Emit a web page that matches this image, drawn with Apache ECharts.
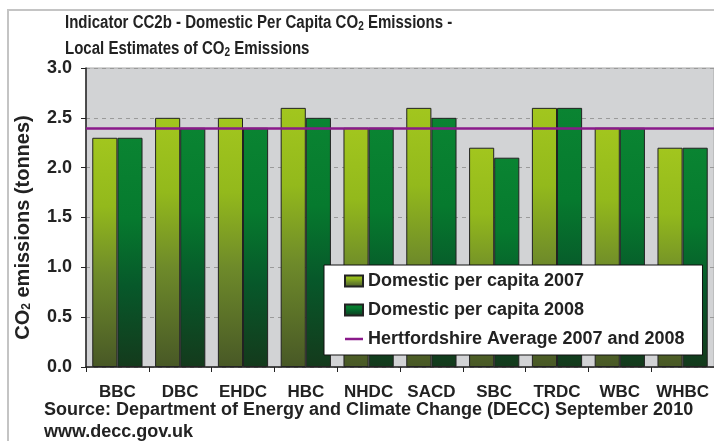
<!DOCTYPE html>
<html>
<head>
<meta charset="utf-8">
<script src="https://cdn.jsdelivr.net/npm/echarts@6/dist/echarts.min.js"></script>
<style>
html,body{margin:0;padding:0;background:#fff;}
#main{width:714px;height:441px;}
</style>
</head>
<body>
<div id="main"></div>
<script>
//数据
var categories = ['BBC','DBC','EHDC','HBC','NHDC','SACD','SBC','TRDC','WBC','WHBC'];
var values2007 = [2.3, 2.5, 2.5, 2.6, 2.4, 2.6, 2.2, 2.6, 2.4, 2.2];
var values2008 = [2.3, 2.4, 2.4, 2.5, 2.4, 2.5, 2.1, 2.6, 2.4, 2.2];
var avgValue = 2.4;
var seriesNames = ['Domestic per capita 2007','Domestic per capita 2008','Hertfordshire Average 2007 and 2008'];

var FONT = 'Liberation Sans, Arial, sans-serif';
var TXT = '#222';

var chart = echarts.init(document.getElementById('main'));
chart.setOption({
	backgroundColor: '#fff',
	animation: false,
	textStyle: {fontFamily: FONT},
	graphic: [
		{type: 'rect', shape: {x: 8, y: 10, width: 720, height: 450}, style: {fill: 'none', stroke: '#c4c4c4', lineWidth: 2}, silent: true},
		//标题（横向压缩）
		{
			type: 'text', x: 65, y: 10, scaleX: 0.835,
			style: {
				text: '{a|Indicator CC2b - Domestic Per Capita CO}{s|2}{a| Emissions -}\n{a|Local Estimates of CO}{s|2}{a| Emissions}',
				rich: {
					a: {fontSize: 18, fontWeight: 'bold', fill: TXT, fontFamily: FONT, lineHeight: 26},
					s: {fontSize: 12, fontWeight: 'bold', fill: TXT, fontFamily: FONT, lineHeight: 26, padding: [8, 0, 0, 0]}
				}
			}
		},
		{type: 'text', left: 44, top: 401, style: {text: 'Source: Department of Energy and Climate Change (DECC) September 2010', font: 'bold 18px ' + FONT, fill: TXT}},
		{type: 'text', left: 44, top: 423, style: {text: 'www.decc.gov.uk', font: 'bold 18px ' + FONT, fill: TXT}}
	],
	legend: {
		orient: 'vertical',
		left: 324,
		top: 265,
		backgroundColor: '#fff',
		borderColor: '#111',
		borderWidth: 1,
		padding: [7, 18, 7, 20],
		itemWidth: 18,
		itemHeight: 11,
		itemGap: 11,
		textStyle: {fontSize: 18, fontWeight: 'bold', color: TXT, fontFamily: FONT},
		data: [
			{name: seriesNames[0], icon: 'rect'},
			{name: seriesNames[1], icon: 'rect'},
			{name: seriesNames[2], icon: 'path://M0,0 L18,0 L18,2.5 L0,2.5 Z'}
		]
	},
	grid: {
		left: 86,
		right: 0,
		top: 68,
		bottom: 74,
		show: true,
		backgroundColor: '#d2d3d5',
		borderColor: '#a8a8a8',
		borderWidth: 1
	},
	xAxis: {
		type: 'category',
		data: categories,
		axisLine: {lineStyle: {color: '#222', width: 1.5}},
		axisTick: {show: true, length: 5, lineStyle: {color: '#222'}},
		axisLabel: {margin: 17, fontSize: 17, fontWeight: 'bold', color: TXT, fontFamily: FONT, interval: 0}
	},
	yAxis: {
		type: 'value',
		min: 0,
		max: 3,
		interval: 0.5,
		name: '{a|CO}{s|2}{a| emissions (tonnes)}',
		nameLocation: 'middle',
		nameGap: 52,
		nameRotate: 90,
		nameTextStyle: {
			padding: [0, 20, 0, 0],
			rich: {
				a: {fontSize: 20, fontWeight: 'bold', color: TXT, fontFamily: FONT, lineHeight: 22},
				s: {fontSize: 12, fontWeight: 'bold', color: TXT, fontFamily: FONT, lineHeight: 22, padding: [7, 0, 0, 0]}
			}
		},
		axisLine: {show: true, lineStyle: {color: '#222', width: 1.5}},
		axisTick: {show: true, length: 5, lineStyle: {color: '#222'}},
		axisLabel: {
			margin: 14, fontSize: 18, fontWeight: 'bold', color: TXT, fontFamily: FONT,
			formatter: function (v) { return v.toFixed(1); }
		},
		splitLine: {show: true, lineStyle: {color: '#9a9a9a', type: [4, 4], width: 1}}
	},
	series: [
		{
			name: seriesNames[0],
			type: 'bar',
			data: values2007,
			barGap: '0%',
			barCategoryGap: '20%',
			itemStyle: {
				borderColor: '#222',
				borderWidth: 1,
				color: new echarts.graphic.LinearGradient(0, 0, 0, 1, [
					{offset: 0, color: '#a2c61e'},
					{offset: 0.3, color: '#93b91c'},
					{offset: 0.6, color: '#6e8a2a'},
					{offset: 1, color: '#485826'}
				])
			}
		},
		{
			name: seriesNames[1],
			type: 'bar',
			data: values2008,
			barGap: '0%',
			barCategoryGap: '20%',
			itemStyle: {
				borderColor: '#222',
				borderWidth: 1,
				color: new echarts.graphic.LinearGradient(0, 0, 0, 1, [
					{offset: 0, color: '#0a8432'},
					{offset: 0.35, color: '#067a2e'},
					{offset: 0.65, color: '#07582a'},
					{offset: 1, color: '#143a1c'}
				])
			}
		},
		{
			name: seriesNames[2],
			type: 'line',
			data: [],
			symbol: 'none',
			itemStyle: {color: '#8a1a8a'},
			lineStyle: {color: '#8a1a8a', width: 2.5},
			markLine: {
				silent: true,
				symbol: 'none',
				label: {show: false},
				lineStyle: {color: '#8a1a8a', width: 2.5, type: 'solid'},
				data: [{yAxis: avgValue}]
			}
		}
	]
});
</script>
</body>
</html>
